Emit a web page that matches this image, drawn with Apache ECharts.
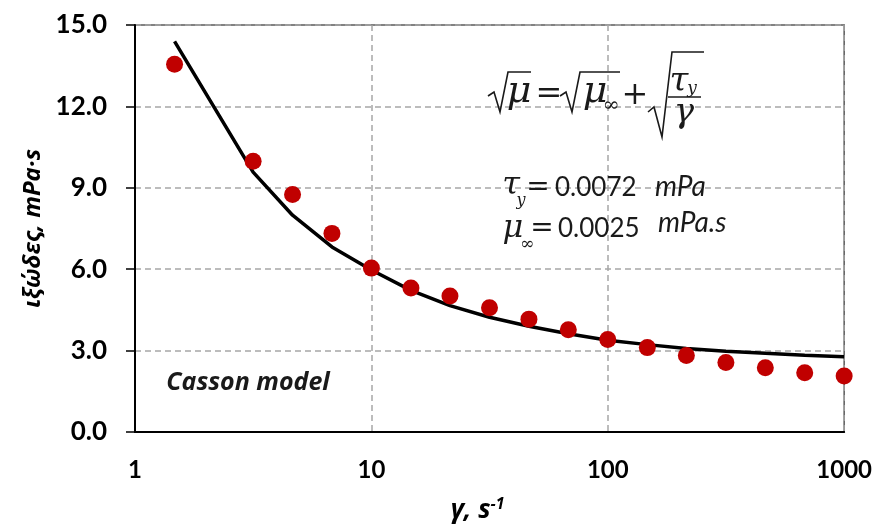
<!DOCTYPE html>
<html><head><meta charset="utf-8">
<script src="https://cdn.jsdelivr.net/npm/echarts@6/dist/echarts.min.js"></script>
<style>html,body{margin:0;padding:0;background:#fff}#c{width:875px;height:529px}</style>
</head><body><div id="c"></div>
<script>
// shear rate (1/s) and measured viscosity (mPa·s)
const shearRate = [1.47, 3.16, 4.64, 6.81, 10, 14.7, 21.5, 31.6, 46.4, 68.1, 100, 147, 215, 316, 464, 681, 1000];
const viscosity = [13.55, 9.98, 8.75, 7.32, 6.04, 5.31, 5.01, 4.58, 4.16, 3.77, 3.41, 3.11, 2.82, 2.56, 2.37, 2.18, 2.06];
// Casson model curve
const modelRate = [1.47, 3.16, 4.64, 6.81, 10, 14.7, 21.5, 31.6, 46.4, 68.1, 100, 147, 215, 316, 464, 681, 1000];
const modelVisc = [14.4, 9.58, 7.99, 6.82, 5.97, 5.22, 4.66, 4.23, 3.9, 3.62, 3.38, 3.22, 3.08, 2.98, 2.9, 2.83, 2.77];
const xTicks = [1, 10, 100, 1000];
const yTicks = [0, 3, 6, 9, 12, 15];

const chart = echarts.init(document.getElementById('c'));
const serif = 'DejaVu Serif';
const ink = '#1a1a1a';
function t(x, y, text, size, opts) {
  opts = opts || {};
  return {type: 'text', x: x, y: y, z: 100, style: {
    text: text, fill: ink, textAlign: opts.align || 'center', textVerticalAlign: 'middle',
    font: (opts.style || 'italic') + ' ' + (opts.weight || 'normal') + ' ' + size + 'px "' + (opts.family || serif) + '"'
  }};
}
function pl(points, w) {
  return {type: 'polyline', z: 100, shape: {points: points}, style: {stroke: ink, lineWidth: w || 1.6, fill: null}};
}
const lato = 'Lato';

chart.setOption({
  animation: false,
  grid: {left: 135, right: 30, top: 25, bottom: 94, show: true, borderColor: '#595959', borderWidth: 1.5},
  xAxis: {
    type: 'log', logBase: 10, min: 1, max: 1000,
    name: '{a|γ, s}{b|-1}', nameLocation: 'middle', nameGap: 64,
    nameTextStyle: {rich: {
      a: {fontFamily: 'Open Sans', fontStyle: 'italic', fontWeight: 'bold', fontSize: 26, color: '#000', lineHeight: 30},
      b: {fontFamily: 'Open Sans', fontStyle: 'italic', fontWeight: 'bold', fontSize: 16, color: '#000', verticalAlign: 'top', lineHeight: 30, padding: [0, 24, 0, 0]}
    }},
    axisLine: {show: true, lineStyle: {color: '#000', width: 2}},
    axisTick: {show: false},
    axisLabel: {fontFamily: lato, fontWeight: 'bold', fontSize: 24, color: '#000', margin: 26,
      formatter: v => xTicks.indexOf(v) >= 0 ? String(v) : ''},
    splitLine: {show: true, lineStyle: {color: '#a6a6a6', type: [6, 4], width: 1.5}},
    minorTick: {show: false}
  },
  yAxis: {
    type: 'value', min: yTicks[0], max: yTicks[yTicks.length - 1], interval: 3,
    name: 'ιξώδες, mPa·s', nameLocation: 'middle', nameGap: 84,
    nameTextStyle: {fontFamily: 'Open Sans', fontStyle: 'italic', fontWeight: 'bold', fontSize: 24, color: '#000'},
    axisLine: {show: true, lineStyle: {color: '#000', width: 2}},
    axisTick: {show: true, inside: false, length: 9, lineStyle: {color: '#000', width: 1.5}},
    axisLabel: {fontFamily: lato, fontWeight: 'bold', fontSize: 26, color: '#000', margin: 28,
      formatter: v => v.toFixed(1)},
    splitLine: {show: true, lineStyle: {color: '#a6a6a6', type: [6, 4], width: 1.5}}
  },
  series: [
    {type: 'line', data: modelRate.map((x, i) => [x, modelVisc[i]]), symbol: 'none',
      lineStyle: {color: '#000', width: 3.5}, z: 3},
    {type: 'scatter', data: shearRate.map((x, i) => [x, viscosity[i]]), symbol: 'circle', symbolSize: 17,
      itemStyle: {color: '#c00000', opacity: 1}, z: 4}
  ],
  graphic: [
    t(248, 383, 'Casson model', 25, {family: 'Open Sans', weight: 'bold', align: 'center'}),
    // sqrt(mu) = sqrt(mu_inf) + sqrt(tau_y / gamma)
    pl([[488, 96], [494, 92], [500, 112], [508, 72], [531, 72]]),
    t(519, 92, 'μ', 38),
    t(549, 95, '=', 32, {style: 'normal'}),
    pl([[560, 96], [566, 92], [572, 112], [580, 72], [620, 72]]),
    t(595, 92, 'μ', 38),
    t(611, 106, '∞', 20, {style: 'normal'}),
    t(635, 96, '+', 32, {style: 'normal'}),
    pl([[648, 112], [654, 107], [662, 137], [672, 52], [704, 52]]),
    t(679, 82, 'τ', 34),
    t(692, 89, 'y', 17),
    pl([[668, 97], [701, 97]], 1.4),
    t(684, 113, 'γ', 34),
    // parameters
    t(511, 186, 'τ', 32),
    t(521, 201, 'y', 16),
    t(538, 188, '=', 28, {style: 'normal'}),
    t(555, 188, '0.0072', 26, {style: 'normal', family: lato, align: 'left'}),
    t(655, 187, 'mPa', 28, {family: lato, align: 'left'}),
    t(513, 229, 'μ', 32),
    t(527, 245, '∞', 17, {style: 'normal'}),
    t(542, 229, '=', 28, {style: 'normal'}),
    t(558, 229, '0.0025', 26, {style: 'normal', family: lato, align: 'left'}),
    t(658, 223, 'mPa.s', 28, {family: lato, align: 'left'})
  ]
});
</script></body></html>
